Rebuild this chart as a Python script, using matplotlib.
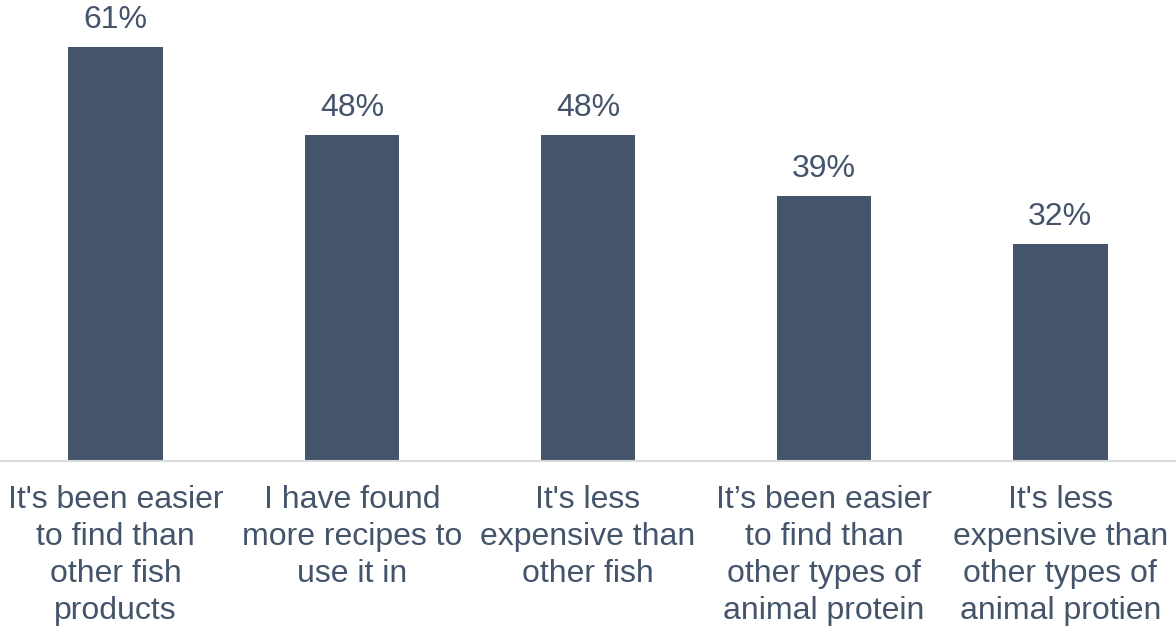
import matplotlib.pyplot as plt

plt.rcParams['font.family'] = ['Liberation Sans', 'DejaVu Sans']

categories = [
    "It's been easier\nto find than\nother fish\nproducts",
    "I have found\nmore recipes to\nuse it in",
    "It's less\nexpensive than\nother fish",
    "It\u2019s been easier\nto find than\nother types of\nanimal protein",
    "It's less\nexpensive than\nother types of\nanimal protien",
]
values = [61, 48, 48, 39, 32]

bar_color = '#44546A'
text_color = '#44546A'

fig = plt.figure(figsize=(11.76, 6.26), dpi=100)
ax = fig.add_axes([0, 0.2636, 1, 0.7364])

x = list(range(len(values)))
ax.bar(x, values, width=0.40, color=bar_color, zorder=2)

# percentage labels sit a fixed gap above each bar
for xi, v in zip(x, values):
    ax.text(xi, v + 2.8, f'{v}%', ha='center', va='baseline',
            fontsize=23, color=text_color)

ax.set_xlim(-0.49, 4.49)
ax.set_ylim(0, 67.9)
ax.set_yticks([])
ax.set_xticks(x)
ax.set_xticklabels(categories, fontsize=23, color=text_color, linespacing=1.3)
ax.tick_params(axis='x', length=0, pad=17.5)

for side in ['top', 'right', 'left']:
    ax.spines[side].set_visible(False)
ax.spines['bottom'].set_color('#D9D9D9')
ax.spines['bottom'].set_linewidth(1.5)

fig.savefig('out.png', dpi=100)
